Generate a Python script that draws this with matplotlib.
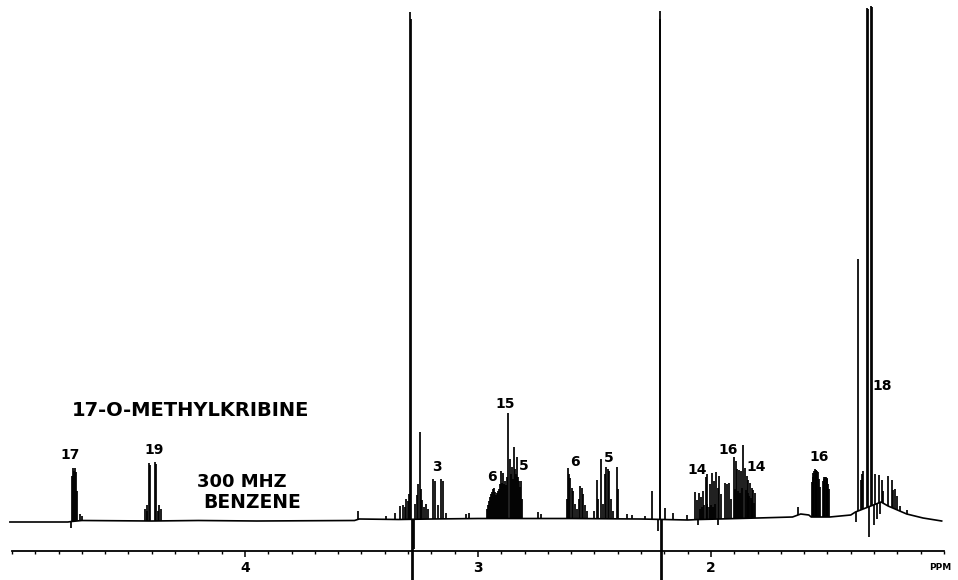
import matplotlib.pyplot as plt
import numpy as np
from matplotlib.ticker import FixedLocator, MultipleLocator

# slow drift of the trace baseline (ppm, intensity)
base_ppm = [5.009, 4.760, 4.745, 4.700, 4.400, 4.200, 3.950, 3.530, 3.510, 3.340, 3.200, 3.000,
            2.800, 2.600, 2.300, 2.100, 2.050, 1.800, 1.650, 1.615, 1.580, 1.570, 1.490, 1.400,
            1.380, 1.270, 1.240, 1.190, 1.160, 1.090, 1.010]
base_int = [0, 0, 0.5, 1.5, 1, 1.5, 1, 1.5, 3, 2.5, 3, 3.5,
            3.5, 3.5, 3, 2, 2.5, 4, 5, 8, 7, 5, 5, 7,
            10, 20, 16, 11, 8, 4, 1]

# lines of each multiplet, heights above the local baseline
h17_ppm = [4.7468, 4.7425, 4.7382, 4.7339, 4.7296, 4.7253, 4.7210, 4.7082, 4.6996]
h17_int = [-6, 45, 53, 50, 53, 49, 30, 7, 5]

h19_ppm = [4.4313, 4.4227, 4.4185, 4.4099, 4.4056, 4.3884, 4.3841, 4.3755, 4.3712, 4.3605]
h19_int = [12, 16, 10, 58, 56, 59, 57, 10, 16, 12]

solv1_ppm = [3.5150, 3.3948, 3.3562, 3.3348, 3.3219, 3.3133, 3.3069, 3.3004, 3.2948,
             3.2897, 3.2876, 3.2833, 3.2790, 3.2747, 3.2704, 3.2631, 3.2575,
             3.2489, 3.2425, 3.2403, 3.2318, 3.2232, 3.2146]
solv1_int = [8, 3, 6, 13, 14, 12, 20, 18, 25,
             507, 500, -100, -100, -30, 15, 24, 35,
             87, 30, 19, 12, 15, 10]

h3_ppm = [3.1910, 3.1845, 3.1738, 3.1567, 3.1502, 3.1373,
          3.0515, 3.0386, 2.7425, 2.7296]
h3_int = [40, 38, 14, 40, 38, 6,
          5, 6, 7, 5]

h6_15_5_ppm = [2.9614, 2.9571, 2.9528, 2.9485, 2.9442, 2.9399, 2.9356, 2.9313, 2.9270, 2.9227,
               2.9185, 2.9142, 2.9099, 2.9056, 2.9013, 2.8970, 2.8927, 2.8884, 2.8841, 2.8798,
               2.8755, 2.8691, 2.8627, 2.8584, 2.8541, 2.8498, 2.8455, 2.8412, 2.8369, 2.8326,
               2.8283, 2.8240, 2.8197, 2.8155, 2.8112]
h6_15_5_int = [10, 14, 18, 22, 25, 27, 30, 31, 27, 24,
               26, 28, 30, 35, 48, 36, 46, 35, 38, 34,
               42, 106, 60, 45, 52, 40, 72, 50, 45, 62,
               42, 38, 32, 38, 20]

h6b_ppm = [2.6180, 2.6124, 2.6094, 2.6052, 2.5979, 2.5923, 2.5837, 2.5751, 2.5665, 2.5622,
           2.5549, 2.5494, 2.5408, 2.5322]
h6b_int = [20, 51, 45, 41, 31, 28, 15, 10, 20, 33,
           31, 25, 14, 8]

h5b_ppm = [2.5009, 2.4906, 2.4837, 2.4734, 2.4648, 2.4549, 2.4506, 2.4433, 2.4365, 2.4292,
           2.4206, 2.4047, 2.3979, 2.3618, 2.3391, 2.2833, 2.2532]
h5b_int = [8, 39, 20, 60, 15, 45, 52, 50, 48, 20,
           8, 52, 30, 5, 4, 3, 28]

solv2_ppm = [2.2275, 2.2210, 2.2189, 2.2146, 2.2103, 2.1974, 2.1631, 2.1030]
solv2_int = [-12, 508, 500, -100, -100, 12, 7, 5]

h14_16_ppm = [2.0687, 2.0614, 2.0558, 2.0515, 2.0472, 2.0429, 2.0386, 2.0330, 2.0279, 2.0227,
              2.0193, 2.0159, 2.0086, 2.0043, 2.0000, 1.9944, 1.9914, 1.9858, 1.9828, 1.9785,
              1.9712, 1.9678, 1.9644, 1.9584, 1.9399, 1.9326, 1.9240, 1.9155,
              1.9000, 1.8970, 1.8927, 1.8871, 1.8841, 1.8785, 1.8755, 1.8700, 1.8670, 1.8614,
              1.8554, 1.8519, 1.8468, 1.8433, 1.8399, 1.8369, 1.8326, 1.8283, 1.8253, 1.8219,
              1.8185, 1.8155, 1.8099, 1.6266]
h14_16_int = [28, 20, -5, 27, 10, 22, 12, 28, 14, 42,
              15, 45, 12, 35, 14, 46, 12, 38, 15, 47,
              31, -6, 43, 25, 36, 35, 36, 20,
              62, 30, 58, 50, 28, 48, 25, 47, 30, 73,
              50, 28, 42, 25, 38, 22, 35, 20, 30, 18,
              28, 15, 25, 8]

h16b_ppm = [1.5665, 1.5633, 1.5601, 1.5568, 1.5536, 1.5504, 1.5472, 1.5440, 1.5408, 1.5375,
            1.5343, 1.5193, 1.5161, 1.5129, 1.5097, 1.5064, 1.5032, 1.5000, 1.4968, 1.4936]
h16b_int = [35, 40, 44, 46, 48, 47, 47, 46, 45, 38,
            30, 36, 38, 40, 40, 40, 39, 38, 33, 28]

h18_ppm = [1.3777, 1.3678, 1.3575, 1.3519, 1.3455, 1.3326, 1.3283, 1.3219, 1.3112, 1.3069,
           1.3004, 1.2940, 1.2876, 1.2811, 1.2747, 1.2682, 1.2605, 1.2391, 1.2245, 1.2176,
           1.2103, 1.2030, 1.1888, 1.1601]
h18_int = [-10, 252, 30, 35, 38, 500, 498, -30, 500, 498,
           -20, 30, -15, 28, -12, 22, 12, 30, 28, 18,
           20, 14, 5, 4]

# assignment labels
assign_text = ["17", "19", "3", "6", "15", "5", "6", "5", "14", "16", "14", "16", "18"]
assign_ppm = [4.751, 4.391, 3.176, 2.940, 2.884, 2.803, 2.584, 2.438, 2.060, 1.927, 1.807, 1.537, 1.266]
assign_y = [67, 72, 55, 45, 118, 56, 60, 64, 52, 72, 55, 65, 136]

peak_ppm = np.concatenate([h17_ppm, h19_ppm, solv1_ppm, h3_ppm, h6_15_5_ppm, h6b_ppm,
                           h5b_ppm, solv2_ppm, h14_16_ppm, h16b_ppm, h18_ppm])
peak_int = np.concatenate([h17_int, h19_int, solv1_int, h3_int, h6_15_5_int, h6b_int,
                           h5b_int, solv2_int, h14_16_int, h16b_int, h18_int])

bottom = np.interp(peak_ppm, base_ppm[::-1], base_int[::-1])

fig = plt.figure(figsize=(9.58, 5.80), dpi=100)
ax = fig.add_axes([0, 0, 1, 1])

ax.plot(base_ppm, base_int, color="k", lw=1.2)
ax.vlines(peak_ppm, bottom, bottom + peak_int, color="k", lw=1.25)

for t, p, y in zip(assign_text, assign_ppm, assign_y):
    ax.text(p, y, t, ha="center", va="center", fontsize=10, fontweight="bold")

ax.text(4.7425, 111, "17-O-METHYLKRIBINE", ha="left", va="center",
        fontsize=14, fontweight="bold")
ax.text(4.206, 40, "300 MHZ", ha="left", va="center", fontsize=13, fontweight="bold")
ax.text(4.180, 19, "BENZENE", ha="left", va="center", fontsize=13.5, fontweight="bold")
ax.text(1.017, -45, "PPM", ha="center", va="center", fontsize=6.5, fontweight="bold")

ax.set_xlim(5.0515, 0.9399)
ax.set_ylim(-58, 522)

for s in ["top", "left", "right"]:
    ax.spines[s].set_visible(False)
ax.spines["bottom"].set_position(("data", -29))
ax.spines["bottom"].set_bounds(1.0, 5.0)
ax.spines["bottom"].set_linewidth(1.3)
ax.set_yticks([])
ax.xaxis.set_major_locator(FixedLocator([2, 3, 4]))
ax.xaxis.set_minor_locator(MultipleLocator(0.1))
ax.set_xticklabels(["2", "3", "4"])
ax.tick_params(axis="x", which="major", direction="out", length=4.5, width=1.1,
               pad=3, labelsize=10)
ax.tick_params(axis="x", which="minor", direction="out", length=2.2, width=1.0)
for lab in ax.get_xticklabels():
    lab.set_fontweight("bold")

fig.savefig("out.png", dpi=100)
